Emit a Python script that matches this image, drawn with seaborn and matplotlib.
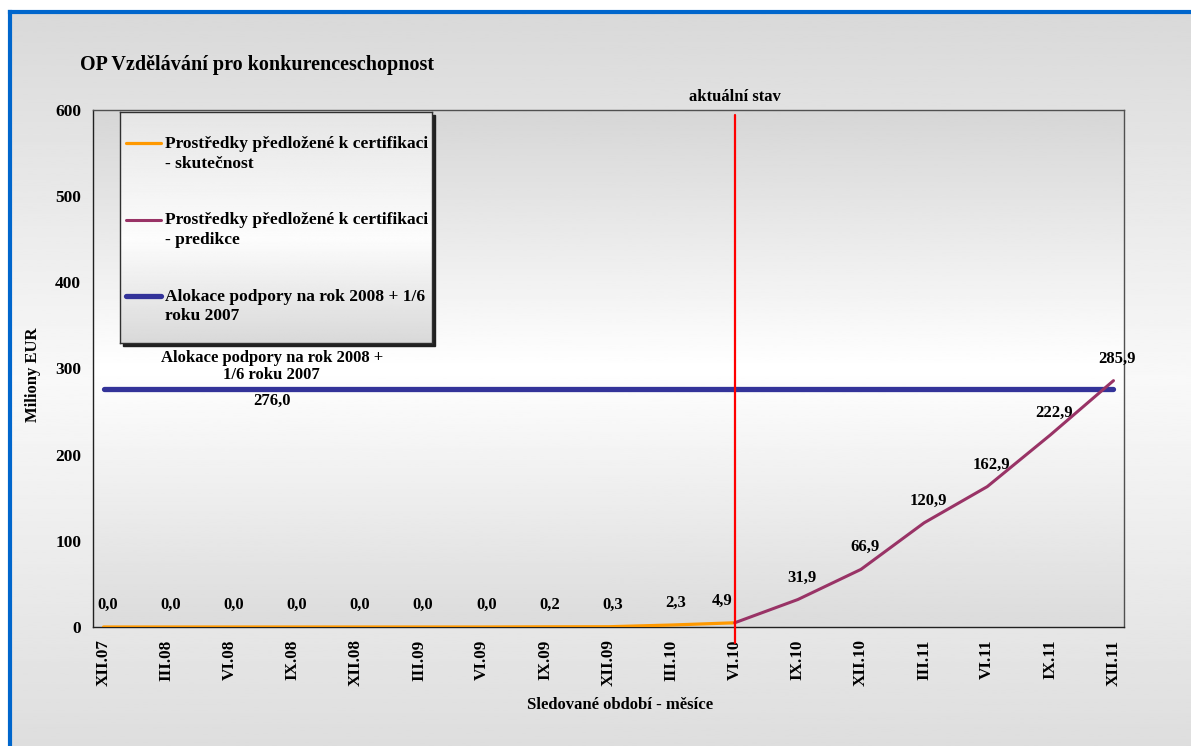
import numpy as np
import pandas as pd
import matplotlib
matplotlib.use('Agg')
import matplotlib.pyplot as plt
import seaborn as sns
from matplotlib.lines import Line2D
from matplotlib.patches import Rectangle

# quarterly category labels (the axis itself is monthly)
ctvrtleti = ['XII.07', 'III.08', 'VI.08', 'IX.08', 'XII.08', 'III.09', 'VI.09',
             'IX.09', 'XII.09', 'III.10', 'VI.10', 'IX.10', 'XII.10', 'III.11',
             'VI.11', 'IX.11', 'XII.11']
skutecnost = [0.0, 0.0, 0.0, 0.0, 0.0, 0.0, 0.0, 0.2, 0.3, 2.3, 4.9]
predikce = [4.9, 31.9, 66.9, 120.9, 162.9, 222.9, 285.9]
alokace = 276.0
aktualni_stav = 'VI.10'
y_ticks = [0, 100, 200, 300, 400, 500, 600]

lbl_skut = 'Prostředky předložené k certifikaci\n- skutečnost'
lbl_pred = 'Prostředky předložené k certifikaci\n- predikce'
lbl_alok = 'Alokace podpory na rok 2008 + 1/6\nroku 2007'

c_orange = '#FF9900'
c_purple = '#993366'
c_blue = '#333399'

W, H = 1191, 746
n_mes = 3 * (len(ctvrtleti) - 1) + 1
q_pos = [3 * i for i in range(len(ctvrtleti))]

df_skut = pd.DataFrame({'mesic': q_pos[:len(skutecnost)], 'hodnota': skutecnost})
df_pred = pd.DataFrame({'mesic': q_pos[len(skutecnost) - 1:], 'hodnota': predikce})
df_alok = pd.DataFrame({'mesic': q_pos, 'hodnota': [alokace] * len(q_pos)})

sns.set_style('white')
plt.rcParams['font.family'] = ['Liberation Serif', 'DejaVu Serif']
plt.rcParams['font.weight'] = 'bold'
plt.rcParams['text.color'] = 'black'
plt.rcParams['axes.labelcolor'] = 'black'
plt.rcParams['xtick.color'] = 'black'
plt.rcParams['ytick.color'] = 'black'

fig = plt.figure(figsize=(W / 100, H / 100), dpi=100)
fig.patch.set_facecolor('white')

# page background with blue frame
bg = fig.add_axes([10 / W, 0, 1 - 10 / W, 1 - 12 / H], zorder=-5)
g = np.interp(np.linspace(0, 1, 256), [0, 0.5, 1], [0.85, 0.975, 0.87])
bg.imshow(g[:, None], aspect='auto', cmap='gray', vmin=0, vmax=1, extent=[0, 1, 0, 1])
bg.set_xticks([])
bg.set_yticks([])
for s in ['right', 'bottom']:
    bg.spines[s].set_visible(False)
for s in ['left', 'top']:
    bg.spines[s].set_color('#0066CC')
    bg.spines[s].set_linewidth(3)

# plot area
ax = fig.add_axes([93 / W, 1 - 627 / H, 1031 / W, 517 / H])
g2 = np.interp(np.linspace(0, 1, 256), [0, 0.5, 1], [0.84, 1.0, 0.86])
ax.imshow(g2[:, None], aspect='auto', cmap='gray', vmin=0, vmax=1,
          extent=[0, 1, 0, 1], transform=ax.transAxes, zorder=0)

sns.lineplot(data=df_alok, x='mesic', y='hodnota', ax=ax, color=c_blue, lw=3.8, zorder=3)
sns.lineplot(data=df_skut, x='mesic', y='hodnota', ax=ax, color=c_orange, lw=2.3, zorder=4)
sns.lineplot(data=df_pred, x='mesic', y='hodnota', ax=ax, color=c_purple, lw=2.2, zorder=4)

ax.set_xlim(-0.5, n_mes - 0.5)
ax.set_ylim(0, 600)

# data labels
xs = q_pos[ctvrtleti.index(aktualni_stav)]
for x, v in zip(df_skut['mesic'], df_skut['hodnota']):
    dx = -13 if x == xs else 4
    ax.annotate(f'{v:.1f}'.replace('.', ','), (x, v), xytext=(dx, 22),
                textcoords='offset pixels', ha='center', va='center', fontsize=12)
for x, v in zip(df_pred['mesic'][1:], df_pred['hodnota'][1:]):
    ax.annotate(f'{v:.1f}'.replace('.', ','), (x, v), xytext=(4, 22),
                textcoords='offset pixels', ha='center', va='center', fontsize=12)

ax.annotate('Alokace podpory na rok 2008 +\n1/6 roku 2007', (8, alokace),
            xytext=(0, 6), textcoords='offset pixels', ha='center', va='bottom',
            fontsize=12, linespacing=1.08)
ax.annotate(f'{alokace:.1f}'.replace('.', ','), (8, alokace),
            xytext=(0, -4), textcoords='offset pixels', ha='center', va='top', fontsize=12)

# current state marker
ax.plot([xs, xs], [-18.5, 594], color='red', lw=1.6, clip_on=False, zorder=5)
ax.annotate('aktuální stav', (xs, 1), xycoords=('data', 'axes fraction'),
            xytext=(0, 13), textcoords='offset pixels', ha='center', va='center', fontsize=12)

# axes styling
ax.set_xticks(np.arange(-0.5, n_mes, 1))
ax.set_xticklabels([])
ax.set_xticks(q_pos, minor=True)
ax.set_xticklabels(ctvrtleti, minor=True, rotation=90, fontsize=12.3)
ax.tick_params(axis='x', which='major', direction='out', length=4, width=1, color='#404040')
ax.tick_params(axis='x', which='minor', length=0, pad=9)
ax.set_yticks(y_ticks)
ax.set_yticklabels([str(t) for t in y_ticks], fontsize=12.5)
ax.tick_params(axis='y', direction='out', length=0, pad=8.5)
for s in ax.spines.values():
    s.set_visible(True)
    s.set_color('#505050')
    s.set_linewidth(1)
ax.spines['left'].set_color('#202020')
ax.spines['bottom'].set_color('#202020')

ax.set_xlabel('Sledované období - měsíce', fontsize=12, fontweight='bold')
ax.xaxis.set_label_coords((620 - 93) / 1031, (627 - 705) / 517)
ax.xaxis.label.set_va('center')
ax.set_ylabel('Miliony EUR', fontsize=12, fontweight='bold')
ax.yaxis.set_label_coords((33 - 93) / 1031, (627 - 375) / 517)
ax.yaxis.label.set_va('center')

fig.text(80 / W, 1 - 65 / H, 'OP Vzdělávání pro konkurenceschopnost',
         ha='left', va='center', fontsize=14.5, fontweight='bold')

# legend box with gradient + shadow
lx0, ly0, lx1, ly1 = 120, 112, 432, 343
fig.add_artist(Rectangle(((lx0 + 3) / W, 1 - (ly1 + 3) / H), (lx1 - lx0) / W, (ly1 - ly0) / H,
                         transform=fig.transFigure, color='#202020', zorder=0.5))
lb = fig.add_axes([lx0 / W, 1 - ly1 / H, (lx1 - lx0) / W, (ly1 - ly0) / H], zorder=1)
g3 = np.interp(np.linspace(0, 1, 256), [0, 0.55, 1], [0.9, 0.99, 0.85])
lb.imshow(g3[:, None], aspect='auto', cmap='gray', vmin=0, vmax=1, extent=[0, 1, 0, 1])
lb.set_xticks([])
lb.set_yticks([])
for s in lb.spines.values():
    s.set_color('#303030')
    s.set_linewidth(1)

handles = [Line2D([], [], color=c_orange, lw=2.3),
           Line2D([], [], color=c_purple, lw=2.2),
           Line2D([], [], color=c_blue, lw=3.8)]
leg = fig.legend(handles, [lbl_skut, lbl_pred, lbl_alok], loc='upper left',
                 bbox_to_anchor=((lx0 + 6) / W, 1 - (ly0 + 24) / H), frameon=False,
                 fontsize=12.5, labelspacing=2.35, handlelength=2.0, handletextpad=0.25,
                 borderaxespad=0, borderpad=0)
leg.set_zorder(5)
for t in leg.get_texts():
    t.set_linespacing(1.3)
for ln in leg.get_lines():
    ln.set_ydata(np.asarray(ln.get_ydata()) + 7.5)

fig.savefig('out.png', dpi=100)
